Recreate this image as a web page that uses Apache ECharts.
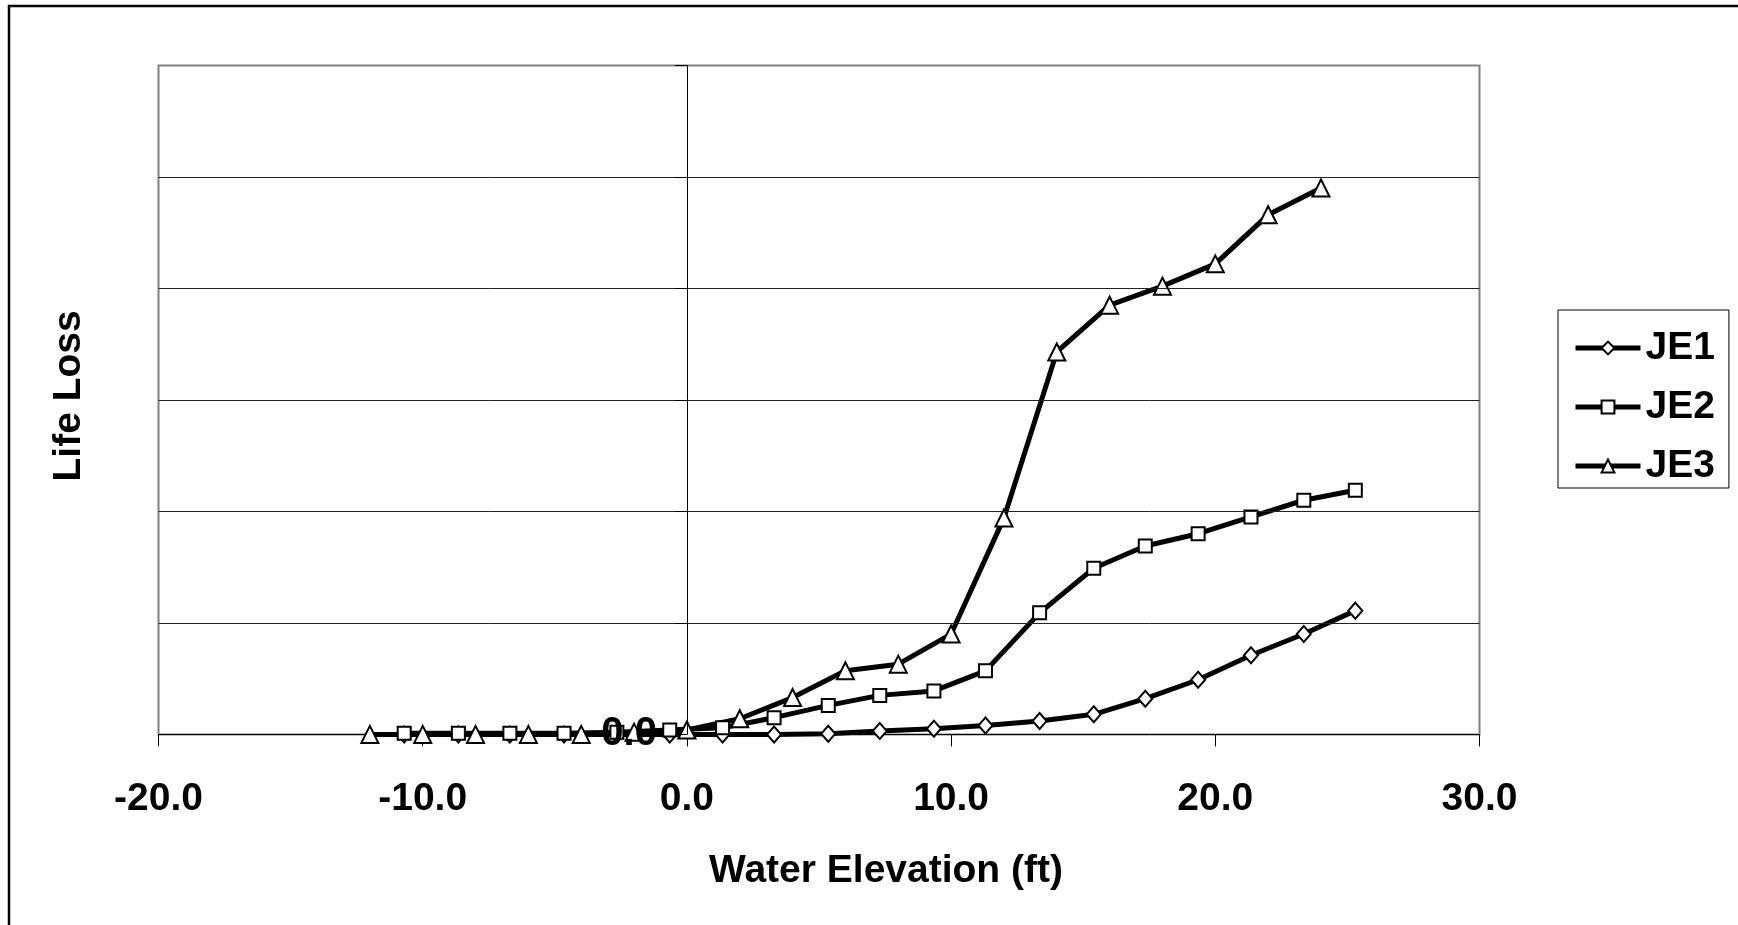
<!DOCTYPE html>
<html>
<head>
<meta charset="utf-8">
<script src="https://cdn.jsdelivr.net/npm/echarts@6/dist/echarts.min.js"></script>
<style>
html,body{margin:0;padding:0;background:#fff;}
#chart{width:1738px;height:925px;}
</style>
</head>
<body>
<div id="chart"></div>
<script>
// Data
var seriesNames = ['JE1', 'JE2', 'JE3'];
var xJE12 = [-10.7, -8.65, -6.7, -4.65, -2.65, -0.65, 1.35, 3.3, 5.35, 7.3, 9.35, 11.3, 13.35, 15.4, 17.35, 19.35, 21.35, 23.35, 25.3];
var yJE1 = [0, 0, 0, 0, 0, 0, 0, 0, 0.05, 0.3, 0.5, 0.8, 1.2, 1.8, 3.2, 4.9, 7.1, 9.0, 11.1];
var yJE2 = [0.1, 0.1, 0.1, 0.1, 0.2, 0.4, 0.6, 1.5, 2.6, 3.5, 3.9, 5.7, 10.9, 14.9, 16.9, 18.0, 19.5, 21.0, 21.9];
var xJE3 = [-12, -10, -8, -6, -4, -2, 0, 2, 4, 6, 8, 10, 12, 14, 16, 18, 20, 22, 24];
var yJE3 = [0, 0, 0, 0, 0, 0.2, 0.4, 1.4, 3.3, 5.7, 6.3, 9.0, 19.4, 34.3, 38.5, 40.2, 42.2, 46.6, 49.0];
var xTicks = {min: -20, max: 30, interval: 10};
var yTicks = {min: 0, max: 60, interval: 10};

function pairs(xs, ys) {
  var out = [];
  for (var i = 0; i < xs.length; i++) out.push([xs[i], ys[i]]);
  return out;
}

var FONT = '"Liberation Sans", Arial, sans-serif';
var GRID = {left: 158.5, top: 65.4, width: 1321, height: 669};
// The value axis crosses at x = 0: shift it from the grid's left edge to there.
var yAxisShift = -GRID.width * (0 - xTicks.min) / (xTicks.max - xTicks.min);

var chart = echarts.init(document.getElementById('chart'), null, {renderer: 'canvas'});

function lineSeries(name, data, symbol, size) {
  return {
    name: name,
    type: 'line',
    z: 2,
    data: data,
    symbol: symbol,
    symbolSize: size,
    showSymbol: true,
    animation: false,
    lineStyle: {color: '#000', width: 5},
    itemStyle: {color: '#fff', borderColor: '#000', borderWidth: 2}
  };
}

chart.setOption({
  backgroundColor: '#fff',
  animation: false,
  graphic: [{
    type: 'rect',
    shape: {x: 9, y: 6, width: 1780, height: 960},
    style: {fill: 'none', stroke: '#000', lineWidth: 2.5},
    silent: true
  }],
  grid: {
    left: GRID.left, top: GRID.top, width: GRID.width, height: GRID.height,
    containLabel: false, outerBoundsMode: 'none',
    show: true, borderColor: '#808080', borderWidth: 2, backgroundColor: 'transparent'
  },
  legend: {
    orient: 'vertical',
    left: 1558, top: 310,
    data: seriesNames,
    backgroundColor: '#fff',
    borderColor: '#000', borderWidth: 1,
    padding: [18, 14, 2, 15],
    itemWidth: 65, itemHeight: 16,
    itemGap: 19,
    lineStyle: {width: 5, color: '#000'},
    itemStyle: {color: '#fff', borderColor: '#000', borderWidth: 2},
    textStyle: {fontFamily: FONT, fontWeight: 'bold', fontSize: 39, color: '#000', lineHeight: 40}
  },
  xAxis: {
    type: 'value',
    min: xTicks.min, max: xTicks.max, interval: xTicks.interval,
    name: 'Water Elevation (ft)',
    nameLocation: 'middle',
    nameGap: 117,
    nameTextStyle: {fontFamily: FONT, fontWeight: 'bold', fontSize: 39, color: '#000', lineHeight: 39, padding: [0, 0, 0, 134]},
    axisLine: {show: true, onZero: false, lineStyle: {color: '#000', width: 1}},
    axisTick: {show: true, length: 12, lineStyle: {color: '#000', width: 1}},
    axisLabel: {
      margin: 45, fontFamily: FONT, fontWeight: 'bold', fontSize: 39, color: '#000', lineHeight: 39,
      formatter: function (v) { return v.toFixed(1); }
    },
    splitLine: {show: false}
  },
  yAxis: {
    type: 'value',
    z: 10,
    min: yTicks.min, max: yTicks.max, interval: yTicks.interval,
    offset: yAxisShift,
    name: 'Life Loss',
    nameLocation: 'middle',
    nameGap: 598,
    nameTextStyle: {fontFamily: FONT, fontWeight: 'bold', fontSize: 39, color: '#000', lineHeight: 39, padding: [0, 0, 0, 8]},
    axisLine: {show: true, onZero: false, lineStyle: {color: '#000', width: 1}},
    axisTick: {show: true, length: 12, lineStyle: {color: '#000', width: 1}},
    axisLabel: {
      margin: 30, fontFamily: FONT, fontWeight: 'bold', fontSize: 40, color: '#000', lineHeight: 40,
      padding: [14, 0, 0, 0],
      formatter: function (v) { return v === 0 ? '0.0' : ''; }
    },
    splitLine: {show: true, showMaxLine: false, showMinLine: false, lineStyle: {color: '#222', width: 1}}
  },
  series: [
    lineSeries('JE1', pairs(xJE12, yJE1), 'diamond', [14, 16]),
    lineSeries('JE2', pairs(xJE12, yJE2), 'rect', 13),
    lineSeries('JE3', pairs(xJE3, yJE3), 'triangle', 17)
  ]
});
</script>
</body>
</html>
